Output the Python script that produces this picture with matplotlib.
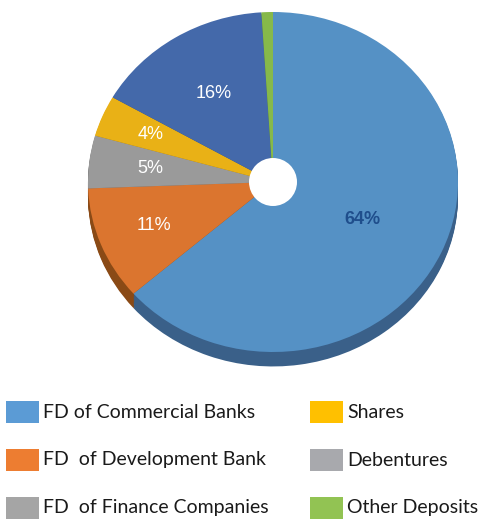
import matplotlib.pyplot as plt
from matplotlib.patches import Ellipse, Rectangle

# data (clockwise from 12 o'clock)
sources = ["FD of Commercial Banks", "FD  of Development Bank", "FD  of Finance Companies",
           "Shares", "Debentures", "Other Deposits"]
shares = [63.6, 10.8, 5.0, 3.9, 15.7, 1.0]
top_colors = ["#5591C5", "#DB752F", "#9A9A9A", "#E9B116", "#4469AA", "#86B94A"]
side_colors = ["#3A6089", "#8A4A16", "#6A6A6A", "#9E7810", "#2F4A78", "#5C8232"]
label_dist = [0.53, 0.69, 0.67, 0.72, 0.61, 0.6]

# legend
legend_left = ["FD of Commercial Banks", "FD  of Development Bank", "FD  of Finance Companies"]
legend_left_colors = ["#5B9BD5", "#ED7D31", "#A5A5A5"]
legend_right = ["Shares", "Debentures", "Other Deposits"]
legend_right_colors = ["#FFC000", "#A8A9AD", "#92C353"]

W, H = 481, 521
fig = plt.figure(figsize=(W / 100, H / 100), dpi=100)

# pie axes: centre (273,182) px, rx 185 px, ry 170 px
cx, cy, rx, ry = 273, 182, 185, 170
depth = 0.085
ylo, yhi = -1.0 - depth - 0.02, 1.02
xlo, xhi = -1.02, 1.02
ax = fig.add_axes([(cx + xlo * rx) / W, (H - cy + ylo * ry) / H,
                   (xhi - xlo) * rx / W, (yhi - ylo) * ry / H])

# side of the 3d disc
n = 12
for i in range(n):
    ax.pie(shares, colors=side_colors, startangle=90, counterclock=False,
           center=(0, -depth * (1 - i / n)), wedgeprops=dict(linewidth=0))

def fmt(p):
    return "" if p < 2 else "%.0f%%" % p

wedges, texts, autotexts = ax.pie(shares, colors=top_colors, startangle=90, counterclock=False,
                                  autopct=fmt, pctdistance=1.0,
                                  wedgeprops=dict(linewidth=0))
for t, d in zip(autotexts, label_dist):
    x, y = t.get_position()
    t.set_position((x * d, y * d))
    t.set_fontsize(13)
    t.set_family("Liberation Sans")
    t.set_color("white")
autotexts[0].set_color("#1F4E8C")
autotexts[0].set_fontweight("bold")

# centre hole
ax.add_patch(Ellipse((0, 0), 2 * 24 / rx, 2 * 24 / ry, facecolor="white", edgecolor="none", zorder=5))

ax.set_aspect("auto")
ax.set_xlim(xlo, xhi)
ax.set_ylim(ylo, yhi)
ax.axis("off")

# legend drawn by hand
rows_y = [412, 460, 508]
for col_x, labels, colors in [(6, legend_left, legend_left_colors), (310, legend_right, legend_right_colors)]:
    for y, lab, c in zip(rows_y, labels, colors):
        fig.add_artist(Rectangle((col_x / W, (H - y - 11) / H), 33 / W, 22 / H,
                                 transform=fig.transFigure, facecolor=c, edgecolor="none"))
        fig.text((col_x + 37) / W, (H - y) / H, lab, fontsize=14, family="Lato",
                 color="#1a1a1a", va="center", ha="left")

fig.savefig("out.png", dpi=100, facecolor="white")
